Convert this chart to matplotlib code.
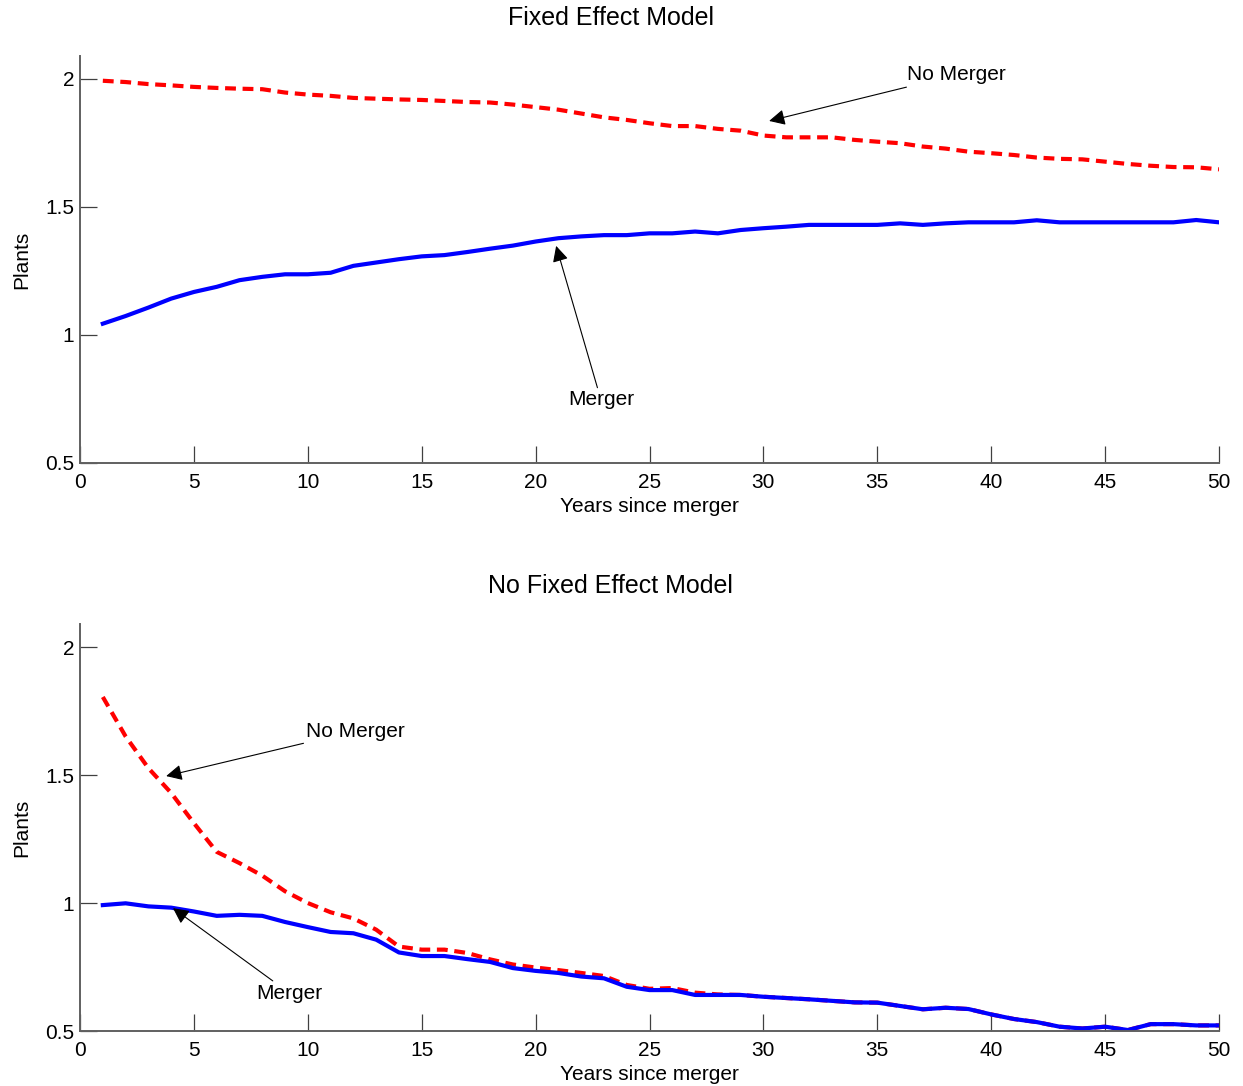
import numpy as np
import matplotlib
matplotlib.use('Agg')
import matplotlib.pyplot as plt

plt.rcParams['font.family'] = ['Liberation Sans', 'DejaVu Sans']

years = np.arange(1, 51)

# Fixed effect model
fe_merger = [1.044, 1.074, 1.107, 1.142, 1.168, 1.188, 1.214, 1.227, 1.237, 1.237,
             1.243, 1.270, 1.283, 1.296, 1.307, 1.312, 1.324, 1.337, 1.349, 1.365,
             1.378, 1.385, 1.390, 1.390, 1.397, 1.397, 1.404, 1.397, 1.410, 1.417,
             1.423, 1.430, 1.430, 1.430, 1.430, 1.436, 1.430, 1.436, 1.440, 1.440,
             1.440, 1.448, 1.440, 1.440, 1.440, 1.440, 1.440, 1.440, 1.449, 1.440]
fe_nomerger = [1.993, 1.988, 1.980, 1.975, 1.969, 1.965, 1.962, 1.960, 1.947, 1.939,
               1.934, 1.926, 1.923, 1.920, 1.918, 1.914, 1.910, 1.908, 1.900, 1.890,
               1.880, 1.865, 1.850, 1.840, 1.827, 1.816, 1.816, 1.805, 1.798, 1.779,
               1.772, 1.772, 1.772, 1.762, 1.755, 1.749, 1.736, 1.728, 1.716, 1.710,
               1.703, 1.693, 1.688, 1.686, 1.677, 1.668, 1.661, 1.656, 1.655, 1.647]

# No fixed effect model
nfe_merger = [0.992, 0.999, 0.987, 0.982, 0.967, 0.950, 0.954, 0.950, 0.926, 0.906,
              0.887, 0.882, 0.857, 0.807, 0.793, 0.793, 0.781, 0.770, 0.746, 0.735,
              0.727, 0.713, 0.706, 0.673, 0.660, 0.660, 0.641, 0.641, 0.641, 0.634,
              0.629, 0.624, 0.618, 0.612, 0.611, 0.598, 0.585, 0.591, 0.586, 0.565,
              0.547, 0.535, 0.517, 0.510, 0.517, 0.504, 0.527, 0.527, 0.522, 0.522]
nfe_nomerger = [1.805, 1.651, 1.527, 1.430, 1.312, 1.200, 1.156, 1.107, 1.046, 1.000,
                0.964, 0.940, 0.896, 0.830, 0.818, 0.818, 0.805, 0.780, 0.760, 0.748,
                0.738, 0.727, 0.715, 0.680, 0.665, 0.668, 0.650, 0.643, 0.641, 0.634,
                0.629, 0.624, 0.618, 0.612, 0.611, 0.598, 0.585, 0.591, 0.586, 0.565,
                0.547, 0.535, 0.517, 0.510, 0.517, 0.504, 0.527, 0.527, 0.522, 0.522]

xticks = [0, 5, 10, 15, 20, 25, 30, 35, 40, 45, 50]
yticks = [0.5, 1, 1.5, 2]
ytick_labels = ['0.5', '1', '1.5', '2']

fig = plt.figure(figsize=(12.43, 10.86), dpi=100)
ax1 = fig.add_axes([0.0644, 0.5737, 0.9163, 0.3748])
ax2 = fig.add_axes([0.0644, 0.0506, 0.9163, 0.3748])


def style(ax, title):
    ax.set_xlim(0, 50)
    ax.set_ylim(0.5, 2.09)
    ax.set_xticks(xticks)
    ax.set_yticks(yticks)
    ax.set_yticklabels(ytick_labels)
    ax.spines['top'].set_visible(False)
    ax.spines['right'].set_visible(False)
    for s in ['left', 'bottom']:
        ax.spines[s].set_color('#606060')
        ax.spines[s].set_linewidth(1.4)
    ax.tick_params(direction='in', length=12, width=0.9, color='#404040', labelsize=15)
    ax.tick_params(axis='x', pad=7)
    ax.tick_params(axis='y', pad=4)
    ax.set_xlabel('Years since merger', fontsize=15, labelpad=4)
    ax.set_ylabel('Plants', fontsize=15, labelpad=10)
    ax.set_title(title, fontsize=18, x=0.466, pad=22)


# top panel
ax1.plot(years, fe_nomerger, color='red', lw=3, dashes=(2.6, 1.6))
ax1.plot(years, fe_merger, color='blue', lw=3)
style(ax1, 'Fixed Effect Model')
arrow = dict(arrowstyle='-|>', color='k', lw=0.8, mutation_scale=24, shrinkA=0, shrinkB=0)
ax1.annotate('No Merger', xy=(30.25, 1.836), xytext=(36.3, 2.016),
             fontsize=15, ha='left', va='center', arrowprops=arrow)
ax1.annotate('Merger', xy=(20.9, 1.348), xytext=(22.87, 0.746),
             fontsize=15, ha='center', va='center', arrowprops=arrow)

# bottom panel
ax2.plot(years, nfe_nomerger, color='red', lw=3, dashes=(2.6, 1.6))
ax2.plot(years, nfe_merger, color='blue', lw=3)
style(ax2, 'No Fixed Effect Model')
ax2.annotate('No Merger', xy=(3.78, 1.496), xytext=(9.9, 1.672),
             fontsize=15, ha='left', va='center', arrowprops=arrow)
ax2.annotate('Merger', xy=(4.08, 0.98), xytext=(9.2, 0.648),
             fontsize=15, ha='center', va='center', arrowprops=arrow)

fig.savefig('out.png', dpi=100)
